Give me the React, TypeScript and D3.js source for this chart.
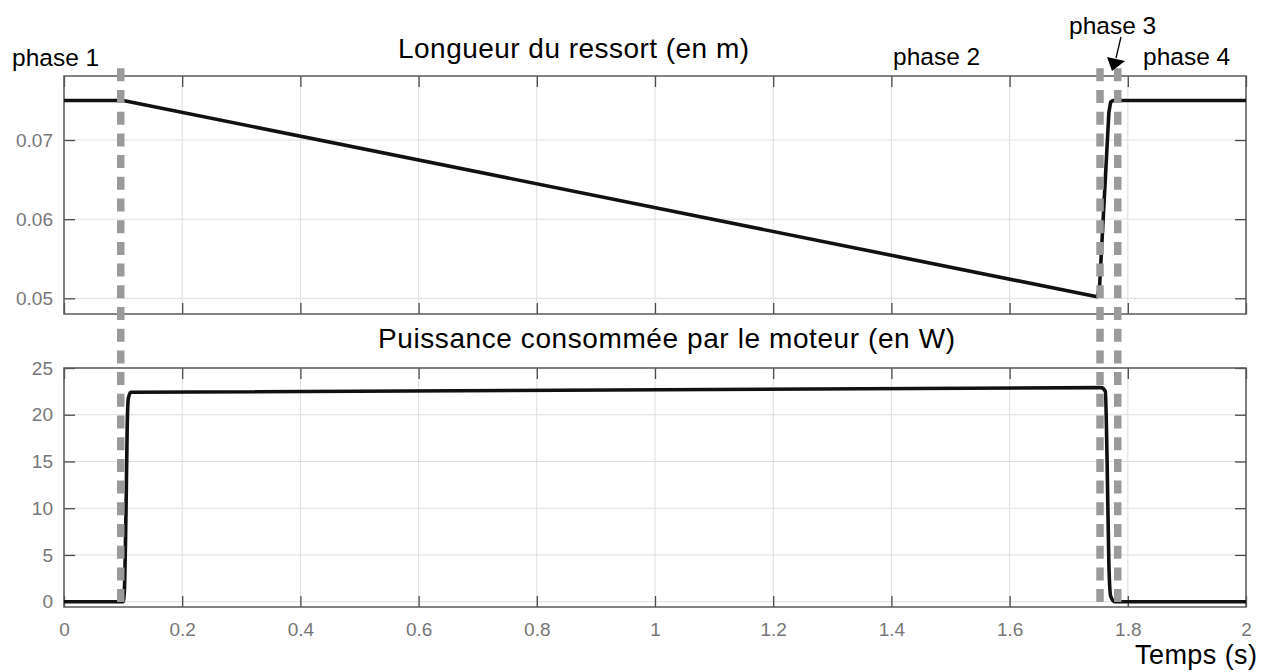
import React, { useEffect, useRef } from 'react';
import * as d3 from 'd3';

// spring length (m) vs time (s)
const lengthTime = [0, 0.1, 1.748, 1.752, 1.768, 1.771, 1.775, 2];
const lengthValue = [0.075, 0.075, 0.0502, 0.0512, 0.0735, 0.0748, 0.075, 0.075];

// motor power (W) vs time (s)
const powerTime = [0, 0.1, 0.102, 0.105, 0.107, 0.109, 0.113, 1.755, 1.762, 1.765, 1.768, 1.771, 1.778, 2];
const powerValue = [0, 0, 1, 10, 19, 21.8, 22.4, 22.9, 22.5, 15, 4, 0.6, 0, 0];

const xTicks = [0, 0.2, 0.4, 0.6, 0.8, 1, 1.2, 1.4, 1.6, 1.8, 2];
const topTicks = [0.05, 0.06, 0.07];
const bottomTicks = [0, 5, 10, 15, 20, 25];

// phase boundaries (dashed lines)
const phaseLines = [0.096, 1.753, 1.783];

const W = 1265;
const H = 672;
const left = 64;
const right = 1246;

const App: React.FC = () => {
  const svgRef = useRef<SVGSVGElement>(null);

  useEffect(() => {
    if (!svgRef.current) return;
    const svg = d3.select(svgRef.current);
    svg.selectAll('*').remove();

    const font = '"Liberation Sans", Arial, sans-serif';
    const x = d3.scaleLinear().domain([0, 2]).range([left, right]);
    const yTop = d3.scaleLinear().domain([0.04802, 0.07809]).range([314, 76]);
    const yBot = d3.scaleLinear().domain([-0.567, 25]).range([607, 368]);

    const panel = (y: d3.ScaleLinear<number, number>, ticks: number[], fmt: (v: number) => string, showX: boolean) => {
      const [y0, y1] = y.range();
      const g = svg.append('g');

      // grid
      g.selectAll('line.gx').data(xTicks).enter().append('line')
        .attr('x1', d => x(d)).attr('x2', d => x(d))
        .attr('y1', y1).attr('y2', y0)
        .attr('stroke', '#dedede').attr('stroke-width', 1);
      g.selectAll('line.gy').data(ticks).enter().append('line')
        .attr('x1', left).attr('x2', right)
        .attr('y1', d => y(d)).attr('y2', d => y(d))
        .attr('stroke', '#dedede').attr('stroke-width', 1);

      const styleAxis = (a: d3.Selection<SVGGElement, unknown, null, undefined>) => {
        a.select('.domain').remove();
        a.selectAll('.tick line').attr('stroke', '#4a4a4a').attr('stroke-width', 1.3);
        a.selectAll('.tick text').attr('fill', '#777').style('font-family', font).style('font-size', '19px');
      };

      g.append('g').attr('transform', `translate(${left},0)`)
        .call(d3.axisLeft(y).tickValues(ticks).tickSize(-11).tickPadding(11).tickFormat(d => fmt(d as number)))
        .call(styleAxis);
      g.append('g').attr('transform', `translate(${right},0)`)
        .call(d3.axisRight(y).tickValues(ticks).tickSize(-11).tickFormat(() => ''))
        .call(styleAxis);
      g.append('g').attr('transform', `translate(0,${y1})`)
        .call(d3.axisTop(x).tickValues(xTicks).tickSize(-11).tickFormat(() => ''))
        .call(styleAxis);
      const bx = g.append('g').attr('transform', `translate(0,${y0})`)
        .call(d3.axisBottom(x).tickValues(xTicks).tickSize(-11).tickPadding(16)
          .tickFormat(d => (showX ? String(d) : '')))
        .call(styleAxis);
      bx.selectAll('.tick text').attr('dy', '0.71em');

      // box
      g.append('rect')
        .attr('x', left).attr('y', y1)
        .attr('width', right - left).attr('height', y0 - y1)
        .attr('fill', 'none').attr('stroke', '#5a5a5a').attr('stroke-width', 1.5);
      return g;
    };

    panel(yTop, topTicks, v => d3.format('.2f')(v), false);
    panel(yBot, bottomTicks, v => String(v), true);

    const lineTop = d3.line<number>().x((_, i) => x(lengthTime[i])).y(d => yTop(d)).curve(d3.curveLinear);
    svg.append('path').datum(lengthValue)
      .attr('d', lineTop).attr('fill', 'none')
      .attr('stroke', '#111').attr('stroke-width', 3.6).attr('stroke-linejoin', 'round');

    const lineBot = d3.line<number>().x((_, i) => x(powerTime[i])).y(d => yBot(d)).curve(d3.curveMonotoneX);
    svg.append('path').datum(powerValue)
      .attr('d', lineBot).attr('fill', 'none')
      .attr('stroke', '#111').attr('stroke-width', 3.6).attr('stroke-linejoin', 'round');

    // dashed phase separators
    svg.selectAll('line.phase').data(phaseLines).enter().append('line')
      .attr('x1', d => x(d)).attr('x2', d => x(d))
      .attr('y1', 68.3).attr('y2', 607)
      .attr('stroke', '#9a9a9a').attr('stroke-width', 7.5)
      .attr('stroke-dasharray', '13 8.7');

    const txt = (s: string, tx: number, ty: number, size: number, len?: number) => {
      const t = svg.append('text').attr('x', tx).attr('y', ty)
        .style('font-family', font).style('font-size', `${size}px`)
        .attr('fill', '#000').text(s);
      if (len) t.attr('textLength', len).attr('lengthAdjust', 'spacing');
    };

    txt('Longueur du ressort (en m)', 398, 58.3, 28, 351);
    txt('Puissance consommée par le moteur (en W)', 378, 348.3, 28, 577);
    txt('phase 1', 12, 66, 24.5);
    txt('phase 2', 893, 65, 24.5);
    txt('phase 3', 1069, 33.5, 24.5);
    txt('phase 4', 1143, 64.5, 24.5);
    txt('Temps (s)', 1135, 664, 27, 122);

    // arrow to phase 3
    svg.append('line')
      .attr('x1', 1121).attr('y1', 37).attr('x2', 1116).attr('y2', 58)
      .attr('stroke', '#000').attr('stroke-width', 1.3);
    svg.append('path')
      .attr('d', 'M1112,71 L1107,57 L1125,61 Z')
      .attr('fill', '#000');
  }, []);

  return (
    <svg ref={svgRef} width={W} height={H}
      style={{ position: 'absolute', left: 0, top: 0, background: '#fff' }} />
  );
};

export default App;
